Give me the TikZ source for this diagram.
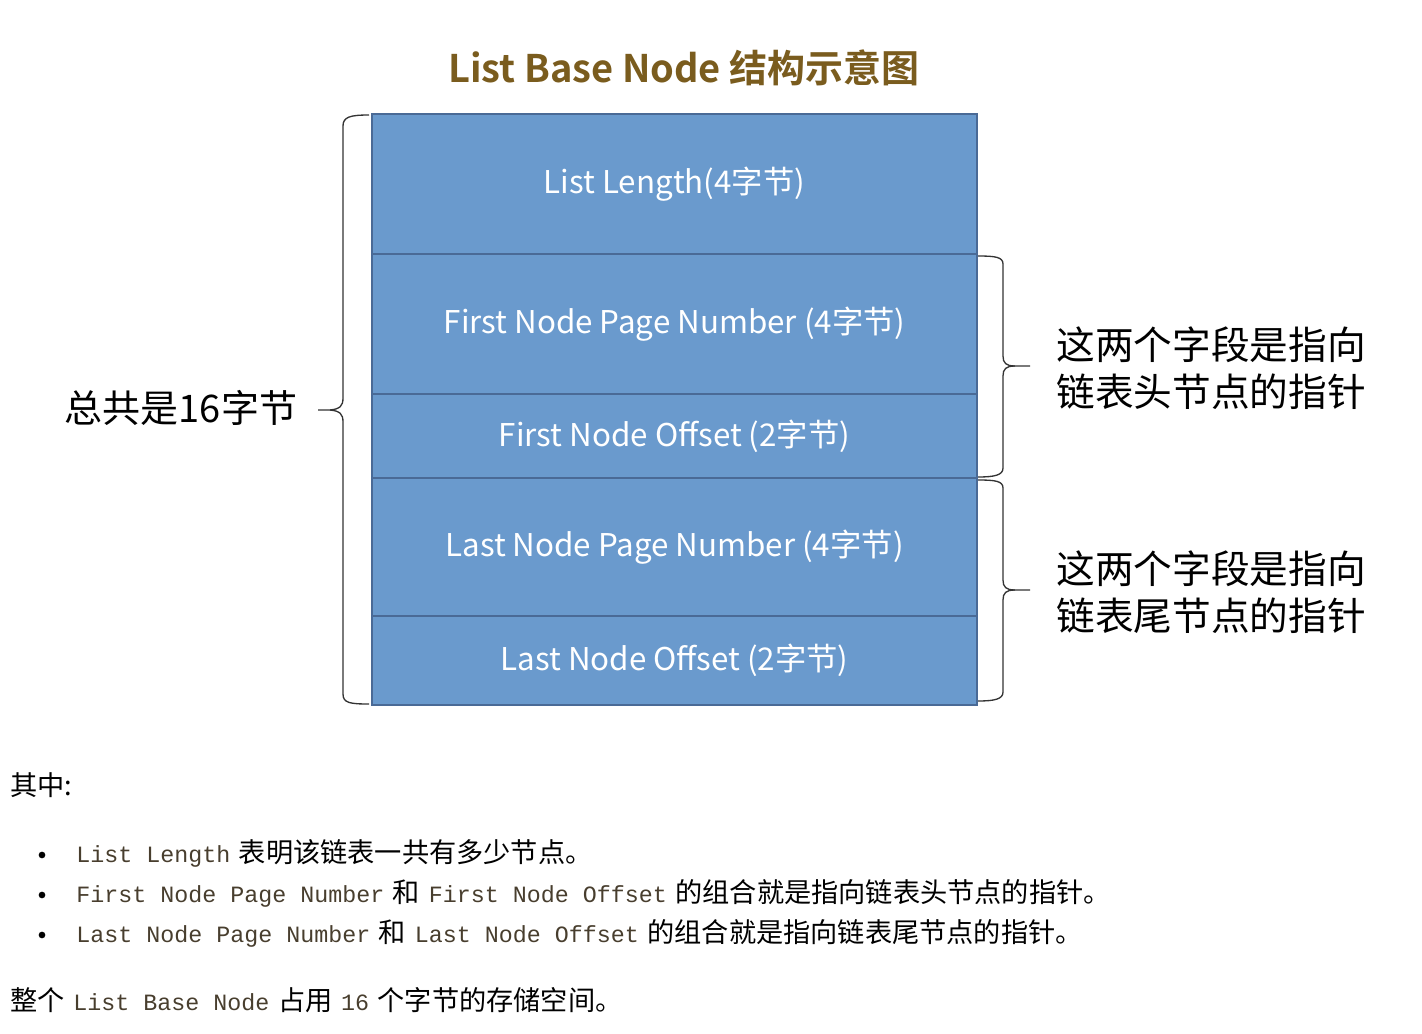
\documentclass[tikz,border=0pt]{standalone}
\usepackage{fontspec}
\setmainfont{Noto Sans CJK SC}
\setmonofont{Liberation Mono}
\newfontfamily\titlefont{Noto Sans CJK SC Bold}
\definecolor{fieldfill}{RGB}{106,154,205}
\definecolor{fielddraw}{RGB}{74,106,150}
\definecolor{titlecol}{RGB}{122,92,30}
\definecolor{codecol}{RGB}{72,62,46}
\newcommand{\cdtxt}[1]{{\ttfamily\fontsize{17.5}{20}\selectfont\color{codecol}#1}}
\newcommand{\gp}{\hspace{6.5pt}}
\begin{document}
\begin{tikzpicture}[x=0.75pt,y=-0.75pt,
  field/.style={draw=fielddraw,line width=1.6pt,fill=fieldfill,minimum width=453.75pt,
    inner sep=0pt,text=white,font=\fontsize{23.5}{28}\selectfont},
  bracepath/.style={draw=black!80,line width=1pt},
  sidelabel/.style={align=left,font=\fontsize{29}{35.5}\selectfont,inner sep=0pt},
  bodytext/.style={anchor=west,inner sep=0pt,font=\fontsize{20.4}{24}\selectfont},
  bulletdot/.style={circle,fill=black,minimum size=5pt,inner sep=0pt}]
\useasboundingbox (0,0) rectangle (1422,1034);
% title
\node[text=titlecol,font=\titlefont\fontsize{28.5}{34}\selectfont] (title) at (684,68) {List Base Node 结构示意图};
% fields
\node[field,minimum height=105pt] (f1) at (674.5,184) {List Length(4字节)};
\node[field,minimum height=105pt] (f2) at (674.5,324) {First Node Page Number (4字节)};
\node[field,minimum height=63pt] (f3) at (674.5,436) {First Node Offset (2字节)};
\node[field,minimum height=103.5pt] (f4) at (674.5,547) {Last Node Page Number (4字节)};
\node[field,minimum height=66.75pt] (f5) at (674.5,660.5) {Last Node Offset (2字节)};
% left brace
\draw[bracepath] (369,115) .. controls (350,115) and (343,117) .. (343,126) -- (343,398)
  .. controls (343,406) and (340,409) .. (330,410) -- (318,410);
\draw[bracepath] (330,410) .. controls (340,411) and (343,414) .. (343,422) -- (343,694)
  .. controls (343,703) and (350,704) .. (369,704);
% right brace 1
\draw[bracepath] (978,256) .. controls (995,256) and (1003,257) .. (1003,264) -- (1003,356)
  .. controls (1003,363) and (1006,366) .. (1015,366) -- (1030,366);
\draw[bracepath] (1015,366) .. controls (1006,366) and (1003,369) .. (1003,376) -- (1003,468)
  .. controls (1003,475) and (995,477) .. (978,477);
% right brace 2
\draw[bracepath] (978,480) .. controls (995,480) and (1003,481) .. (1003,488) -- (1003,580)
  .. controls (1003,587) and (1006,590) .. (1015,590) -- (1030,590);
\draw[bracepath] (1015,590) .. controls (1006,590) and (1003,593) .. (1003,600) -- (1003,692)
  .. controls (1003,699) and (995,701) .. (978,701);
% side labels
\node[font=\fontsize{28.5}{32}\selectfont,inner sep=0pt] (total) at (181,408) {总共是16字节};
\node[sidelabel] (head) at (1211,368) {这两个字段是指向\\链表头节点的指针};
\node[sidelabel] (tail) at (1211,592) {这两个字段是指向\\链表尾节点的指针};
% bottom text
\node[bodytext] (intro) at (10,785) {其中:};
\node[bulletdot] (b1) at (42,855) {};
\node[bulletdot] (b2) at (42,895) {};
\node[bulletdot] (b3) at (42,935) {};
\node[bodytext] (l1) at (76,853) {\cdtxt{List Length}\gp 表明该链表一共有多少节点。};
\node[bodytext] (l2) at (76,893) {\cdtxt{First Node Page Number}\gp 和\gp\cdtxt{First Node Offset}\gp 的组合就是指向链表头节点的指针。};
\node[bodytext] (l3) at (76,933) {\cdtxt{Last Node Page Number}\gp 和\gp\cdtxt{Last Node Offset}\gp 的组合就是指向链表尾节点的指针。};
\node[bodytext] (last) at (10,1000) {整个\gp\cdtxt{List Base Node}\gp 占用\gp\cdtxt{16}\gp 个字节的存储空间。};
\end{tikzpicture}
\end{document}
